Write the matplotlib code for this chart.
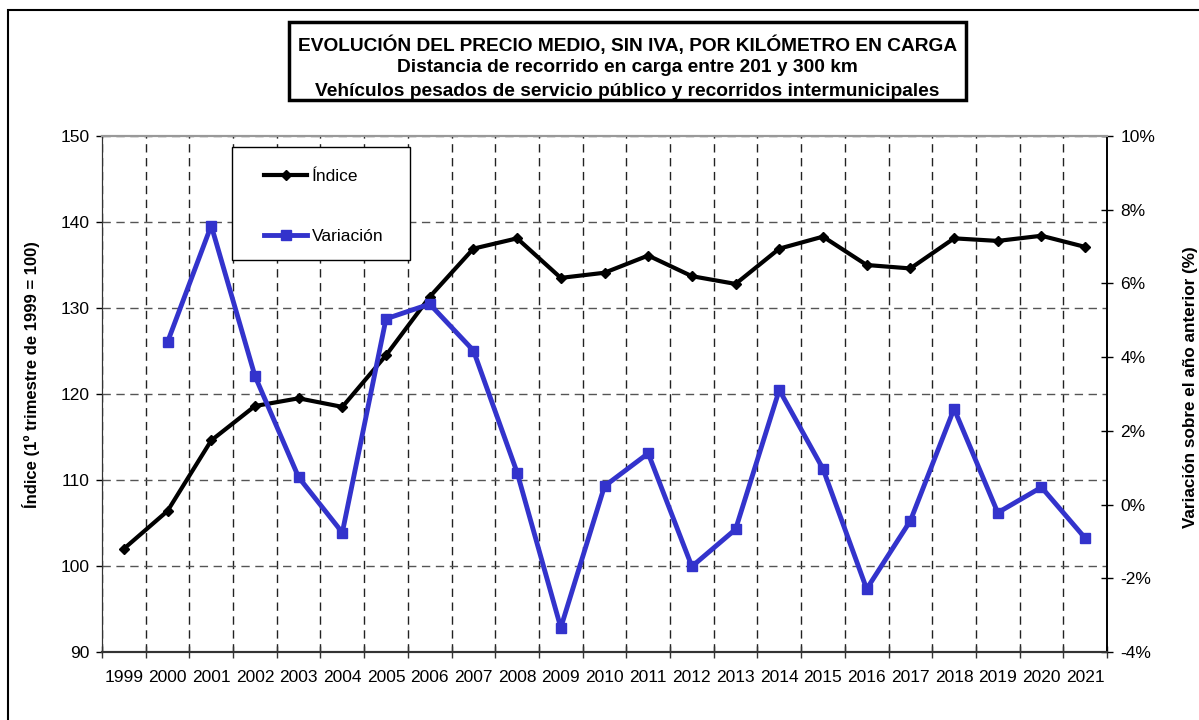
import matplotlib
matplotlib.use('Agg')
import matplotlib.pyplot as plt
from matplotlib.patches import Rectangle
from matplotlib.lines import Line2D
from matplotlib.ticker import MultipleLocator, FuncFormatter

plt.rcParams['font.family'] = ['Liberation Sans', 'DejaVu Sans']

# ---- data ----
years = [str(y) for y in range(1999, 2022)]
indice = [102.0, 106.4, 114.6, 118.6, 119.5, 118.5, 124.5, 131.3, 136.9, 138.1,
          133.5, 134.1, 136.1, 133.7, 132.8, 136.9, 138.3, 135.0, 134.6, 138.1,
          137.8, 138.4, 137.1]
var_years = years[1:]
variacion = [4.41, 7.57, 3.49, 0.74, -0.76, 5.04, 5.44, 4.18, 0.87, -3.34,
             0.50, 1.39, -1.68, -0.67, 3.11, 0.97, -2.29, -0.44, 2.60, -0.22,
             0.47, -0.91]

title_lines = ["EVOLUCIÓN DEL PRECIO MEDIO, SIN IVA, POR KILÓMETRO EN CARGA",
               "Distancia de recorrido en carga entre 201 y 300 km",
               "Vehículos pesados de servicio público y recorridos intermunicipales"]
ylabel_left = "Índice (1º trimestre de 1999 = 100)"
ylabel_right = "Variación sobre el año anterior (%)"
legend_labels = ["Índice", "Variación"]

W, H = 1199, 720
fig = plt.figure(figsize=(W / 100, H / 100), dpi=100)


def fx(px):
    return px / W


def fy(py):
    return 1 - py / H


BLUE = '#3333CC'

ax = fig.add_axes([fx(102), fy(652), (1107 - 102) / W, (652 - 136) / H])
ax2 = ax.twinx()

x = list(range(len(years)))
xv = [years.index(y) for y in var_years]
ax.plot(x, indice, color='black', lw=3, marker='D', ms=5, zorder=3)
ax2.plot(xv, variacion, color=BLUE, lw=3.5, marker='s', ms=7, zorder=3)

ax.set_xlim(-0.5, len(years) - 0.5)
ax.set_ylim(90, 150)
ax.yaxis.set_major_locator(MultipleLocator(10))
ax2.set_ylim(-4, 10)
ax2.yaxis.set_major_locator(MultipleLocator(2))
ax2.yaxis.set_major_formatter(FuncFormatter(lambda v, p: f'{v:.0f}%'))

ax.set_xticks([i - 0.5 for i in range(len(years) + 1)])
ax.set_xticklabels([])
ax.set_xticks(x, minor=True)
ax.set_xticklabels(years, minor=True)
ax.tick_params(axis='x', which='major', direction='inout', length=9, width=1, color='#333333')
ax.tick_params(axis='x', which='minor', length=0, pad=13, labelsize=12.5)
ax.tick_params(axis='y', direction='out', length=4, width=1, pad=5, labelsize=12.5)
ax2.tick_params(axis='y', direction='inout', length=9, width=1, pad=5, labelsize=12.5)

ax.grid(True, which='major', axis='y', linestyle=(0, (6, 4)), color='#555555', lw=1)
ax.grid(True, which='major', axis='x', linestyle=(0, (6, 4)), color='#222222', lw=1)
ax.set_axisbelow(True)

for a in (ax, ax2):
    a.spines['top'].set_color('#999999')
    a.spines['top'].set_linewidth(1.5)
    a.spines['bottom'].set_color('#333333')
    a.spines['bottom'].set_linewidth(1.5)
    a.spines['left'].set_color('#333333')
    a.spines['right'].set_color('black')
    a.spines['right'].set_linewidth(1.2)

# figure border
fig.add_artist(Rectangle((fx(8), -0.05), 1.1, fy(10) + 0.05, transform=fig.transFigure,
                         fill=False, ec='black', lw=1.5, zorder=0))

# title box
fig.add_artist(Rectangle((fx(289), fy(100)), (966 - 289) / W, (100 - 22) / H,
                         transform=fig.transFigure, fc='white', ec='black', lw=2.5, zorder=5))
for t, py in zip(title_lines, [45, 68, 91]):
    fig.text(fx(627.5), fy(py), t, ha='center', va='center', fontsize=13.8,
             fontweight='bold', zorder=6)

# legend box
fig.add_artist(Rectangle((fx(232), fy(260)), (410 - 232) / W, (260 - 147) / H,
                         transform=fig.transFigure, fc='white', ec='black', lw=1, zorder=5))
handles = [Line2D([], [], color='black', lw=3, marker='D', ms=5),
           Line2D([], [], color=BLUE, lw=3.5, marker='s', ms=7)]
leg = fig.legend(handles, legend_labels, loc='upper left',
                 bbox_to_anchor=(fx(264), fy(169)), bbox_transform=fig.transFigure,
                 frameon=False, borderpad=0, borderaxespad=0, labelspacing=2.6,
                 handlelength=2.5, handletextpad=0.25, fontsize=12.5, numpoints=1)
leg.set_zorder(6)

# axis labels
fig.text(fx(31), fy(375), ylabel_left, rotation=90, ha='center', va='center',
         fontsize=12, fontweight='bold')
fig.text(fx(1191), fy(387), ylabel_right, rotation=90, ha='center', va='center',
         fontsize=12.3, fontweight='bold')

fig.savefig('out.png', dpi=100)
